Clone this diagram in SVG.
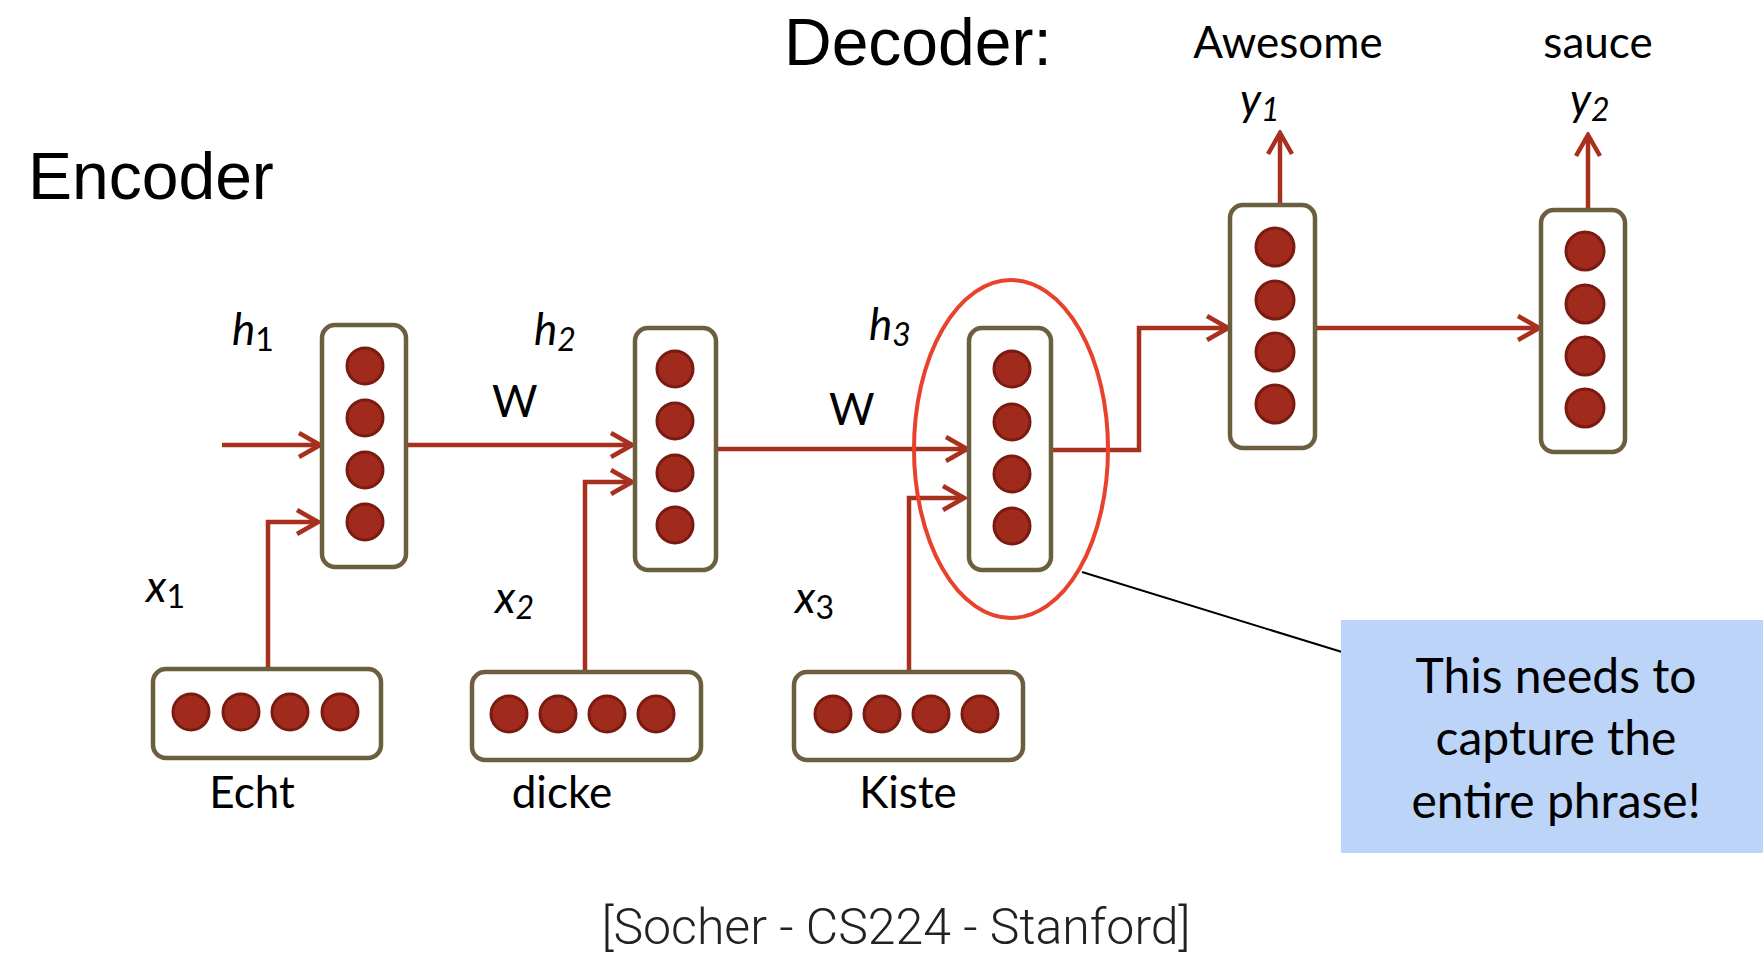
<svg xmlns="http://www.w3.org/2000/svg" width="1763" height="960" viewBox="0 0 1763 960">
<style>
.box{fill:#fff;stroke:#6b5f3f;stroke-width:4.5}
.dot{fill:#a02a1c;stroke:#7a1b12;stroke-width:3}
.con{fill:none;stroke:#a8301f;stroke-width:4.5}
.cal{font-family:Lato,"Open Sans",sans-serif;fill:#000}
.var{font-family:Lato,"Open Sans",sans-serif;font-style:italic;fill:#000;font-size:44px}
.title{font-family:"Liberation Sans",Arial,sans-serif;fill:#000;font-size:66px}
</style>
<defs>
<marker id="ah" viewBox="0 0 26 28" refX="23" refY="14" markerWidth="26" markerHeight="28" markerUnits="userSpaceOnUse" orient="auto">
<path d="M2,2 L23,14 L2,26" fill="none" stroke="#a8301f" stroke-width="4.5"/>
</marker>
</defs>
<rect width="1763" height="960" fill="#fff"/>

<text class="title" x="784" y="65">Decoder:</text>
<text class="title" x="28" y="199">Encoder</text>
<text class="cal" x="1288" y="58" font-size="44" text-anchor="middle">Awesome</text>
<text class="cal" x="1598" y="58" font-size="44" text-anchor="middle">sauce</text>

<g id="connectors">
<path class="con" d="M222,445 H320" marker-end="url(#ah)"/>
<path class="con" d="M406,445 H632" marker-end="url(#ah)"/>
<path class="con" d="M716,449 H967" marker-end="url(#ah)"/>
<path class="con" d="M268,667 V522 H318" marker-end="url(#ah)"/>
<path class="con" d="M585,670 V482 H632" marker-end="url(#ah)"/>
<path class="con" d="M909,670 V498 H964" marker-end="url(#ah)"/>
<path class="con" d="M1051,450 H1139 V328 H1228" marker-end="url(#ah)"/>
<path class="con" d="M1315,328 H1539" marker-end="url(#ah)"/>
<path class="con" d="M1280,205 V133" marker-end="url(#ah)"/>
<path class="con" d="M1588,210 V135" marker-end="url(#ah)"/>
<line x1="1082" y1="572" x2="1342" y2="652" stroke="#000" stroke-width="2"/>
</g>

<g id="h1">
<rect class="box" x="322" y="325" width="84" height="242" rx="13"/>
<circle class="dot" cx="365" cy="366" r="18"/><circle class="dot" cx="365" cy="418" r="18"/><circle class="dot" cx="365" cy="470" r="18"/><circle class="dot" cx="365" cy="522" r="18"/>
<text class="var" x="232" y="345">h<tspan font-style="normal" font-size="32" dy="6">1</tspan></text>
</g>
<g id="h2">
<rect class="box" x="635" y="328" width="81" height="242" rx="13"/>
<circle class="dot" cx="675" cy="369" r="18"/><circle class="dot" cx="675" cy="421" r="18"/><circle class="dot" cx="675" cy="473" r="18"/><circle class="dot" cx="675" cy="525" r="18"/>
<text class="var" x="534" y="345">h<tspan font-size="32" dy="6">2</tspan></text>
</g>
<g id="h3">
<rect class="box" x="969" y="328" width="82" height="242" rx="13"/>
<circle class="dot" cx="1012" cy="369" r="18"/><circle class="dot" cx="1012" cy="422" r="18"/><circle class="dot" cx="1012" cy="474" r="18"/><circle class="dot" cx="1012" cy="526" r="18"/>
<text class="var" x="869" y="340">h<tspan font-size="32" dy="6">3</tspan></text>
</g>
<g id="highlight">
<ellipse cx="1011" cy="449" rx="97" ry="169" fill="none" stroke="#e8412c" stroke-width="4"/>
</g>
<g id="d1">
<rect class="box" x="1230" y="205" width="85" height="243" rx="13"/>
<circle class="dot" cx="1275" cy="247" r="19"/><circle class="dot" cx="1275" cy="300" r="19"/><circle class="dot" cx="1275" cy="352" r="19"/><circle class="dot" cx="1275" cy="404" r="19"/>
<text class="var" x="1240" y="115">y<tspan font-size="32" dy="6">1</tspan></text>
</g>
<g id="d2">
<rect class="box" x="1541" y="210" width="84" height="242" rx="13"/>
<circle class="dot" cx="1585" cy="251" r="19"/><circle class="dot" cx="1585" cy="304" r="19"/><circle class="dot" cx="1585" cy="356" r="19"/><circle class="dot" cx="1585" cy="408" r="19"/>
<text class="var" x="1570" y="115">y<tspan font-size="32" dy="6">2</tspan></text>
</g>
<g id="x1">
<rect class="box" x="153" y="669" width="228" height="89" rx="13"/>
<circle class="dot" cx="191" cy="712" r="18"/><circle class="dot" cx="241" cy="712" r="18"/><circle class="dot" cx="290" cy="712" r="18"/><circle class="dot" cx="340" cy="712" r="18"/>
<text class="var" x="146" y="602">x<tspan font-style="normal" font-size="32" dy="6">1</tspan></text>
<text class="cal" x="252" y="808" font-size="44" text-anchor="middle">Echt</text>
</g>
<g id="x2">
<rect class="box" x="472" y="672" width="229" height="88" rx="13"/>
<circle class="dot" cx="509" cy="714" r="18"/><circle class="dot" cx="558" cy="714" r="18"/><circle class="dot" cx="607" cy="714" r="18"/><circle class="dot" cx="656" cy="714" r="18"/>
<text class="var" x="495" y="613">x<tspan font-size="32" dy="6">2</tspan></text>
<text class="cal" x="562" y="808" font-size="44" text-anchor="middle">dicke</text>
</g>
<g id="x3">
<rect class="box" x="794" y="672" width="229" height="88" rx="13"/>
<circle class="dot" cx="833" cy="714" r="18"/><circle class="dot" cx="882" cy="714" r="18"/><circle class="dot" cx="931" cy="714" r="18"/><circle class="dot" cx="980" cy="714" r="18"/>
<text class="var" x="795" y="613">x<tspan font-style="normal" font-size="32" dy="6">3</tspan></text>
<text class="cal" x="908" y="808" font-size="44" text-anchor="middle">Kiste</text>
</g>
<text class="cal" x="492" y="417" font-size="44">W</text>
<text class="cal" x="829" y="425" font-size="44">W</text>

<g id="callout">
<rect x="1341" y="620" width="422" height="233" fill="#bcd4f8"/>
<text class="cal" font-size="48" text-anchor="middle"><tspan x="1556" y="693">This needs to</tspan><tspan x="1556" y="755">capture the</tspan><tspan x="1556" y="818">entire phrase!</tspan></text>
</g>
<text x="896" y="944" font-family="Roboto,'Liberation Sans',sans-serif" font-weight="300" font-size="50" fill="#222" text-anchor="middle">[Socher - CS224 - Stanford]</text>
</svg>
